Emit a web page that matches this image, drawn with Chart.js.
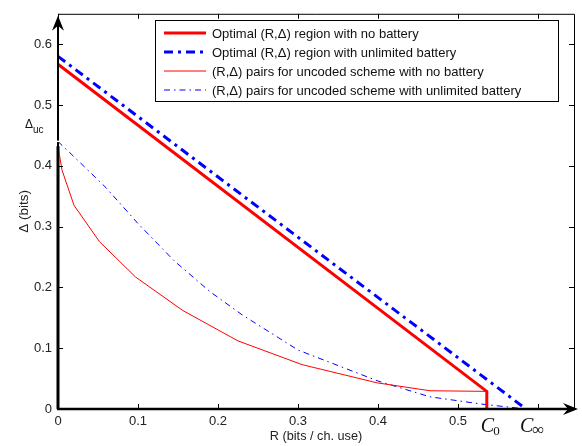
<!DOCTYPE html>
<html><head><meta charset="utf-8">
<script src="https://cdn.jsdelivr.net/npm/chart.js@4/dist/chart.umd.min.js"></script>
<style>html,body{margin:0;padding:0;background:#fff}</style>
</head><body>
<canvas id="c" width="582" height="446"></canvas>
<script>
// ---- data ----
const optNoBatR = [0, 0.536, 0.536];
const optNoBatD = [0.567, 0.029, 0];
const optUnlR = [0, 0.585];
const optUnlD = [0.580, 0];
const uncNoBatR = [0, 0.005, 0.02, 0.052, 0.097, 0.156, 0.225, 0.305, 0.399, 0.465, 0.536];
const uncNoBatD = [0.432, 0.393, 0.335, 0.275, 0.217, 0.162, 0.112, 0.073, 0.043, 0.030, 0.029];
const uncUnlR = [0, 0.02, 0.06, 0.1, 0.145, 0.19, 0.23, 0.3, 0.4, 0.465, 0.53, 0.585];
const uncUnlD = [0.44, 0.415, 0.364, 0.305, 0.244, 0.193, 0.155, 0.097, 0.046, 0.020, 0.008, 0];
const zeroRateR = [0, 0];
const zeroRateD = [0, 0.432];
const xTicks = [0, 0.1, 0.2, 0.3, 0.4, 0.5, 0.6];
const xTickLabels = ['0', '0.1', '0.2', '0.3', '0.4', '0.5', ''];
const yTicks = [0, 0.1, 0.2, 0.3, 0.4, 0.5, 0.6];
const yTickLabels = ['0', '0.1', '0.2', '0.3', '0.4', '0.5', '0.6'];
const capValues = [0.536, 0.585];
const capSubs = ['0', '\u221E'];
const deltaUc = 0.432;
const legendLabels = [
  'Optimal (R,\u0394) region with no battery',
  'Optimal (R,\u0394) region with unlimited battery',
  '(R,\u0394) pairs for uncoded scheme with no battery',
  '(R,\u0394) pairs for uncoded scheme with unlimited battery'
];

const pts = (xs, ys) => xs.map((x, i) => ({x, y: ys[i]}));
const SANS = '"Liberation Sans", Arial, Helvetica, sans-serif';

const datasets = [
  {data: pts(optNoBatR, optNoBatD), borderColor: '#ff0000', borderWidth: 3, borderDash: []},
  {data: pts(optUnlR, optUnlD), borderColor: '#0000ff', borderWidth: 3, borderDash: [9, 5, 3, 5]},
  {data: pts(uncNoBatR, uncNoBatD), borderColor: '#ff0000', borderWidth: 1, borderDash: []},
  {data: pts(uncUnlR, uncUnlD), borderColor: '#0000ff', borderWidth: 1, borderDash: [6, 4, 1.5, 4]},
  {data: pts(zeroRateR, zeroRateD), borderColor: '#000000', borderWidth: 3, borderDash: []}
].map((d, i) => Object.assign(d, {
  label: legendLabels[i] || '', showLine: true, pointRadius: 0, fill: false, tension: 0, clip: 6,
  borderCapStyle: 'butt', borderJoinStyle: 'miter'
}));

const decor = {
  id: 'decor',
  afterDraw(chart) {
    const ctx = chart.ctx, a = chart.chartArea;
    const xs = chart.scales.x, ys = chart.scales.y;
    ctx.save();
    // box (top/right thin)
    ctx.strokeStyle = '#000'; ctx.lineWidth = 1;
    ctx.beginPath();
    ctx.moveTo(a.left, a.top + 0.5); ctx.lineTo(a.right + 0.5, a.top + 0.5); ctx.lineTo(a.right + 0.5, a.bottom);
    ctx.stroke();
    // inward ticks
    ctx.beginPath();
    xTicks.forEach(v => {
      const px = Math.round(xs.getPixelForValue(v)) + 0.5;
      ctx.moveTo(px, a.bottom); ctx.lineTo(px, a.bottom - 5);
      ctx.moveTo(px, a.top); ctx.lineTo(px, a.top + 5);
    });
    yTicks.forEach(v => {
      const py = Math.round(ys.getPixelForValue(v)) + 0.5;
      ctx.moveTo(a.left, py); ctx.lineTo(a.left + 5, py);
      ctx.moveTo(a.right, py); ctx.lineTo(a.right - 5, py);
    });
    ctx.stroke();
    // left axis with arrow
    ctx.lineWidth = 2;
    ctx.beginPath(); ctx.moveTo(a.left, a.bottom); ctx.lineTo(a.left, a.top + 6); ctx.stroke();
    ctx.fillStyle = '#000';
    ctx.beginPath(); ctx.moveTo(a.left, a.top + 2); ctx.lineTo(a.left - 6, a.top + 17);
    ctx.lineTo(a.left, a.top + 12); ctx.lineTo(a.left + 6, a.top + 17); ctx.closePath(); ctx.fill();
    // bottom axis with arrow
    ctx.lineWidth = 2.5;
    ctx.beginPath(); ctx.moveTo(a.left - 1, a.bottom); ctx.lineTo(a.right, a.bottom); ctx.stroke();
    ctx.beginPath(); ctx.moveTo(a.right + 4, a.bottom); ctx.lineTo(a.right - 11, a.bottom - 6);
    ctx.lineTo(a.right - 6, a.bottom); ctx.lineTo(a.right - 11, a.bottom + 6); ctx.closePath(); ctx.fill();
    // small white mark at Delta_uc
    const pu = ys.getPixelForValue(deltaUc);
    ctx.strokeStyle = '#fff'; ctx.lineWidth = 1.5;
    ctx.beginPath(); ctx.moveTo(a.left - 3, pu - 5); ctx.lineTo(a.left + 1, pu - 5); ctx.stroke();
    // Delta_uc label
    ctx.fillStyle = '#111'; ctx.textBaseline = 'alphabetic'; ctx.textAlign = 'left';
    ctx.font = '12px ' + SANS;
    ctx.fillText('\u0394', 25, 128);
    ctx.font = '10px ' + SANS;
    ctx.fillText('uc', 33, 133);
    // capacity labels
    capValues.forEach((v, i) => {
      const px = xs.getPixelForValue(v);
      ctx.font = 'italic 20px "Liberation Serif", "DejaVu Serif", serif';
      const cx = px - 6;
      ctx.fillText('C', cx, 432);
      const w = ctx.measureText('C').width;
      ctx.font = (capSubs[i] === '0' ? '13px' : '17px') + ' "Liberation Serif", "DejaVu Serif", serif';
      ctx.fillText(capSubs[i], cx + w - 1, 435);
    });
    // legend
    const L = 155, T = 20, R = 558, B = 101;
    ctx.fillStyle = '#fff'; ctx.fillRect(L, T, R - L, B - T);
    ctx.strokeStyle = '#000'; ctx.lineWidth = 1;
    ctx.strokeRect(L + 0.5, T + 0.5, R - L, B - T);
    const rows = [33, 52, 71, 90];
    chart.data.datasets.slice(0, 4).forEach((d, i) => {
      ctx.strokeStyle = d.borderColor; ctx.lineWidth = d.borderWidth;
      ctx.setLineDash(d.borderDash); ctx.lineCap = 'butt';
      ctx.beginPath(); ctx.moveTo(164, rows[i]); ctx.lineTo(206, rows[i]); ctx.stroke();
      ctx.setLineDash([]);
      ctx.fillStyle = '#111'; ctx.font = '13px ' + SANS; ctx.textBaseline = 'middle';
      ctx.fillText(d.label, 212, rows[i] + 1);
    });
    ctx.restore();
  }
};

new Chart(document.getElementById('c'), {
  type: 'scatter',
  data: {datasets},
  plugins: [decor],
  options: {
    responsive: false, animation: false,
    layout: {padding: {top: 4, right: 8, left: 0, bottom: 0}},
    plugins: {legend: {display: false}, tooltip: {enabled: false}},
    scales: {
      x: {
        type: 'linear', min: 0, max: 0.645,
        afterBuildTicks: s => { s.ticks = xTicks.map(v => ({value: v})); },
        afterFit: s => { s.height = 37; },
        grid: {display: false, drawTicks: false}, border: {display: false},
        ticks: {callback: (v, i) => xTickLabels[i], font: {size: 13, family: SANS}, color: '#222',
                maxRotation: 0, autoSkip: false, padding: 5},
        title: {display: true, text: 'R (bits / ch. use)', font: {size: 12.7, family: SANS}, color: '#222',
                padding: {top: 0, bottom: 2}}
      },
      y: {
        type: 'linear', min: 0, max: 0.65,
        afterBuildTicks: s => { s.ticks = yTicks.map(v => ({value: v})); },
        afterFit: s => { s.width = 58; },
        grid: {display: false, drawTicks: false}, border: {display: false},
        ticks: {callback: (v, i) => yTickLabels[i], font: {size: 13, family: SANS}, color: '#222', padding: 6},
        title: {display: true, text: '\u0394 (bits)', font: {size: 13.5, family: SANS}, color: '#222',
                padding: {top: 16, bottom: 0}}
      }
    }
  }
});
</script>
</body></html>
